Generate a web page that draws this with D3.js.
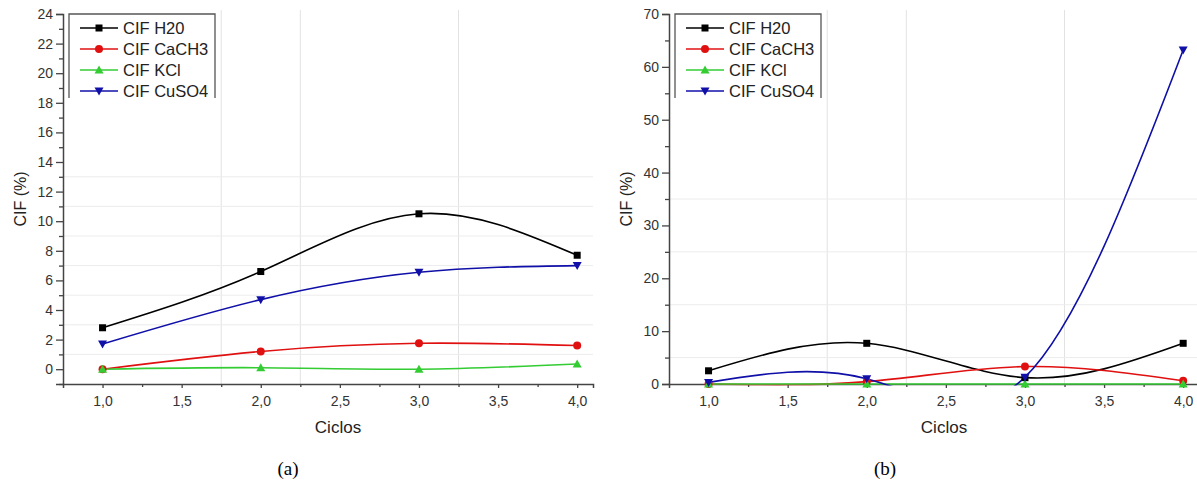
<!DOCTYPE html>
<html><head><meta charset="utf-8">
<script src="https://cdn.jsdelivr.net/npm/d3@7"></script>
<style>html,body{margin:0;padding:0;background:#fff;}svg{display:block;}</style>
</head><body>
<svg id="chart" width="1197" height="483"></svg>
<script>
const ciclos = [1, 2, 3, 4];
const seriesNames = ["CIF H20", "CIF CaCH3", "CIF KCl", "CIF CuSO4"];
const seriesColors = ["#000000", "#e01010", "#33cc33", "#1010a8"];
const seriesMarkers = ["square", "circle", "triangleUp", "triangleDown"];
// Panel (a)
const a_h20 = [2.8, 6.6, 10.5, 7.7];
const a_cach3 = [0, 1.2, 1.75, 1.6];
const a_kcl = [0, 0.1, 0, 0.35];
const a_cuso4 = [1.7, 4.7, 6.55, 7.0];
// Panel (b)
const b_h20 = [2.5, 7.7, 1.2, 7.7];
const b_cach3 = [0, 0.45, 3.3, 0.6];
const b_kcl = [0, 0, 0, 0];
const b_cuso4 = [0.3, 1.0, 1.3, 63.2];
// ticks
const xTicks = [1.0, 1.5, 2.0, 2.5, 3.0, 3.5, 4.0];
const xMinorTicks = [1.25, 1.75, 2.25, 2.75, 3.25, 3.75];
const xGrid = [1.75, 2.25, 3.25];
const a_yTicks = [0, 2, 4, 6, 8, 10, 12, 14, 16, 18, 20, 22, 24];
const a_yMinor = [-1, 1, 3, 5, 7, 9, 11, 13, 15, 17, 19, 21, 23];
const a_yGrid = [1, 3, 5, 7, 9, 11, 13];
const b_yTicks = [0, 10, 20, 30, 40, 50, 60, 70];
const b_yMinor = [5, 15, 25, 35, 45, 55, 65];
const b_yGrid = [5, 15, 25, 35];
const captions = ["(a)", "(b)"];
const xLabel = "Ciclos";
const yLabel = "CIF (%)";

const svg = d3.select("#chart");
const fmt = d => d.toFixed(1).replace(".", ",");

function panel(cfg) {
  const x = d3.scaleLinear().domain([0.75, 4.1]).range([cfg.x0, cfg.x0 + 530]);
  const y = d3.scaleLinear().domain(cfg.yDomain).range([384, 14]);
  const g = svg.append("g");
  const clipId = "clip" + cfg.id;
  g.append("clipPath").attr("id", clipId).append("rect")
    .attr("x", cfg.x0).attr("y", 10).attr("width", 530).attr("height", 375.5);

  // grid
  g.selectAll(".vg").data(xGrid).enter().append("line")
    .attr("x1", d => x(d)).attr("x2", d => x(d)).attr("y1", 10).attr("y2", 384)
    .attr("stroke", "#e2e2e2").attr("stroke-width", 1);
  g.selectAll(".hg").data(cfg.yGrid).enter().append("line")
    .attr("x1", cfg.x0).attr("x2", cfg.x0 + 530).attr("y1", d => y(d)).attr("y2", d => y(d))
    .attr("stroke", "#ececec").attr("stroke-width", 1);

  // axes
  const xAxis = d3.axisBottom(x).tickValues(xTicks).tickFormat(fmt).tickSize(4).tickPadding(8);
  const xa = g.append("g").attr("transform", "translate(0,384)").call(xAxis);
  const xAxisMinor = d3.axisBottom(x).tickValues(xMinorTicks).tickFormat("").tickSize(3);
  const xm = g.append("g").attr("transform", "translate(0,384)").call(xAxisMinor);
  xm.select(".domain").remove();
  const yAxis = d3.axisLeft(y).tickValues(cfg.yTicks).tickSize(7).tickPadding(3);
  const ya = g.append("g").attr("transform", `translate(${cfg.x0},0)`).call(yAxis);
  const yAxisMinor = d3.axisLeft(y).tickValues(cfg.yMinor).tickFormat("").tickSize(4);
  const ym = g.append("g").attr("transform", `translate(${cfg.x0},0)`).call(yAxisMinor);
  ym.select(".domain").remove();
  [xa, ya, xm, ym].forEach(a => {
    a.selectAll(".domain").attr("stroke", "#444").attr("stroke-width", 1.5);
    a.selectAll(".tick line").attr("stroke", "#444").attr("stroke-width", 1.3);
    a.selectAll(".tick text").attr("font-family", "Liberation Sans, Arial, sans-serif")
      .attr("font-size", 14).attr("fill", "#333");
  });

  // axis labels
  g.append("text").attr("x", cfg.x0 + 275).attr("y", 433).attr("text-anchor", "middle")
    .attr("font-family", "Liberation Sans, Arial, sans-serif").attr("font-size", 17).attr("fill", "#222")
    .text(xLabel);
  g.append("text").attr("transform", `translate(${cfg.x0 - 37},199) rotate(-90)`)
    .attr("text-anchor", "middle")
    .attr("font-family", "Liberation Sans, Arial, sans-serif").attr("font-size", 16).attr("fill", "#222")
    .text(yLabel);

  // lines
  const line = d3.line().x((d, i) => x(ciclos[i])).y(d => y(d)).curve(d3.curveNatural);
  const plot = g.append("g").attr("clip-path", `url(#${clipId})`);
  cfg.series.forEach((s, k) => {
    plot.append("path").datum(s).attr("d", line).attr("fill", "none")
      .attr("stroke", seriesColors[k]).attr("stroke-width", 1.6);
  });
  cfg.series.forEach((s, k) => {
    s.forEach((v, i) => drawMarker(g, seriesMarkers[k], x(ciclos[i]), y(v), seriesColors[k]));
  });

  // legend
  const lx = cfg.legendX;
  g.append("path")
    .attr("d", `M${lx},98 L${lx},14 L${lx + 146},14 L${lx + 146},98`)
    .attr("fill", "#fff").attr("stroke", "#555").attr("stroke-width", 1.3);
  seriesNames.forEach((n, k) => {
    const ly = 28 + k * 21;
    g.append("line").attr("x1", lx + 11).attr("x2", lx + 49).attr("y1", ly).attr("y2", ly)
      .attr("stroke", seriesColors[k]).attr("stroke-width", 1.5);
    drawMarker(g, seriesMarkers[k], lx + 30, ly, seriesColors[k]);
    g.append("text").attr("x", lx + 54).attr("y", ly).attr("dy", "0.36em")
      .attr("font-family", "Liberation Sans, Arial, sans-serif").attr("font-size", 16.5).attr("fill", "#222")
      .text(n);
  });

  // caption
  svg.append("text").attr("x", cfg.captionX).attr("y", 475).attr("text-anchor", "middle")
    .attr("font-family", "Liberation Serif, Times New Roman, serif").attr("font-size", 19).attr("fill", "#000")
    .text(cfg.caption);
}

function drawMarker(g, type, cx, cy, color) {
  if (type === "square") {
    g.append("rect").attr("x", cx - 3.5).attr("y", cy - 3.5).attr("width", 7).attr("height", 7).attr("fill", color);
  } else if (type === "circle") {
    g.append("circle").attr("cx", cx).attr("cy", cy).attr("r", 4).attr("fill", color);
  } else if (type === "triangleUp") {
    g.append("path").attr("d", `M${cx},${cy - 4.5} L${cx + 4.5},${cy + 3.5} L${cx - 4.5},${cy + 3.5} Z`).attr("fill", color);
  } else {
    g.append("path").attr("d", `M${cx},${cy + 4.5} L${cx + 4.5},${cy - 3.5} L${cx - 4.5},${cy - 3.5} Z`).attr("fill", color);
  }
}

panel({ id: "a", x0: 63, yDomain: [-1, 24], yTicks: a_yTicks, yMinor: a_yMinor, yGrid: a_yGrid,
  series: [a_h20, a_cach3, a_kcl, a_cuso4], legendX: 69, caption: captions[0], captionX: 288 });
panel({ id: "b", x0: 669, yDomain: [0, 70], yTicks: b_yTicks, yMinor: b_yMinor, yGrid: b_yGrid,
  series: [b_h20, b_cach3, b_kcl, b_cuso4], legendX: 675, caption: captions[1], captionX: 885 });
</script>
</body></html>
